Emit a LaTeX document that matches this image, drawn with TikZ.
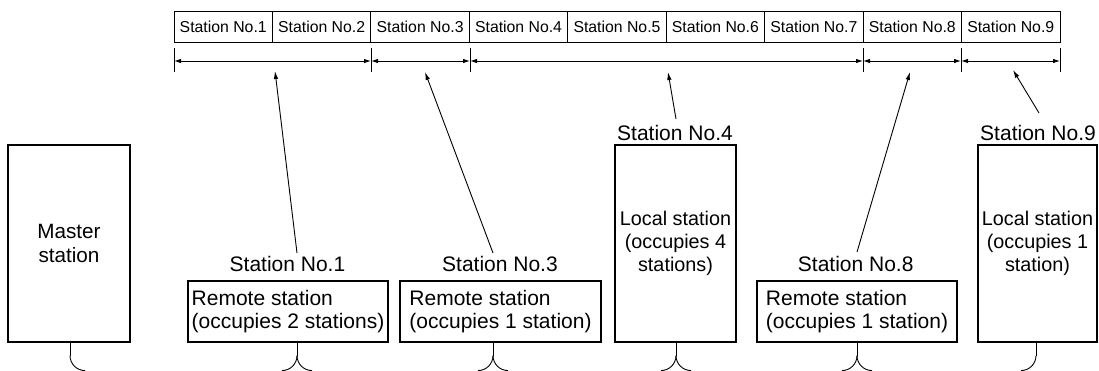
\documentclass[tikz,border=0pt]{standalone}
\usepackage{fontspec}
\setmainfont{Liberation Sans}
\usetikzlibrary{arrows.meta,calc}
\begin{document}
\begin{tikzpicture}[x=1pt,y=-1pt,
  line width=0.9pt,
  cell/.style={draw, minimum width=98.44pt, minimum height=31pt, inner sep=0pt,
    font=\fontsize{15.8}{18}\selectfont},
  lbl/.style={inner sep=0pt, font=\fontsize{21}{23}\selectfont},
  stbox/.style={draw, line width=1.1pt, inner sep=0pt,
    font=\fontsize{21}{23}\selectfont},
  localtxt/.style={font=\fontsize{19.8}{23}\selectfont},
  dimarrow/.style={{Latex[length=7pt,width=4.5pt]}-{Latex[length=7pt,width=4.5pt]}},
  ptr/.style={-{Latex[length=8pt,width=4.5pt]}},
]
\useasboundingbox (0,0) rectangle (1099,370);
\clip (0,0) rectangle (1099,370);

% table of stations
\foreach \i in {1,...,9} {
  \node[cell] (c\i) at ({174+98.44*(\i-0.5)},26.5) {Station No.\i};
}

% dimension ticks
\foreach \n/\x in {a/174, b/371, c/470, d/863, e/961, f/1060} {
  \coordinate (\n t) at (\x,48);
  \coordinate (\n b) at (\x,72);
  \coordinate (\n m) at (\x,61);
  \draw (\n t) -- (\n b);
}
\draw[dimarrow] (am) -- (bm);
\draw[dimarrow] (bm) -- (cm);
\draw[dimarrow] (cm) -- (dm);
\draw[dimarrow] (dm) -- (em);
\draw[dimarrow] (em) -- (fm);

% station boxes
\node[stbox, minimum width=122pt, minimum height=197pt, align=center,
  font=\fontsize{20.7}{24}\selectfont]
  (m) at (69,243.5) {Master\\station};
\node[stbox, minimum width=200pt, minimum height=61pt, align=left]
  (r1) at (288,311.5) {Remote station\\(occupies 2 stations)};
\node[stbox, minimum width=201pt, minimum height=61pt, align=left]
  (r3) at (500.5,311.5) {Remote station\\(occupies 1 station)};
\node[stbox, localtxt, minimum width=121pt, minimum height=197pt, align=center]
  (l4) at (675.5,243.5) {Local station\\(occupies 4\\stations)};
\node[stbox, minimum width=200pt, minimum height=61pt, align=left]
  (r8) at (857,311.5) {Remote station\\(occupies 1 station)};
\node[stbox, localtxt, minimum width=119pt, minimum height=197pt, align=center]
  (l9) at (1037.5,243.5) {Local station\\(occupies 1\\station)};

% station labels
\node[lbl] (s1) at (287.5,264) {Station No.1};
\node[lbl] (s3) at (500,264) {Station No.3};
\node[lbl] (s8) at (855.7,264) {Station No.8};
\node[lbl] (s4) at (675,133) {Station No.4};
\node[lbl] (s9) at (1038,133) {Station No.9};

% pointer arrows
\coordinate (t1) at (297,253);  \coordinate (h1) at (275,71);
\coordinate (t3) at (493,253);  \coordinate (h3) at (425,72);
\coordinate (t4) at (676,119);  \coordinate (h4) at (668,72);
\coordinate (t8) at (857,252);  \coordinate (h8) at (910,72);
\coordinate (t9) at (1039,113); \coordinate (h9) at (1013,70);
\draw[ptr] (t1) -- (h1);
\draw[ptr] (t3) -- (h3);
\draw[ptr] (t4) -- (h4);
\draw[ptr] (t8) -- (h8);
\draw[ptr] (t9) -- (h9);

% bus connections
\coordinate (jm) at (m.south -| 70,0);
\coordinate (j1) at (r1.south -| t1);
\coordinate (j3) at (r3.south -| t3);
\coordinate (j4) at (l4.south -| t4);
\coordinate (j8) at (r8.south -| t8);
\coordinate (j9) at (l9.south -| 1036,0);
\foreach \j in {jm,j1,j3,j4,j8,j9} {
  \draw (\j) -- ($(\j)+(0,13)$) coordinate (k\j);
}
\foreach \j in {j1,j3,j4,j8,j9} {
  \draw (k\j) .. controls ($(k\j)+(0,8.3)$) and ($(k\j)+(-6.7,15)$) .. ($(k\j)+(-15,15)$);
}
\foreach \j in {jm,j1,j3,j4,j8} {
  \draw (k\j) .. controls ($(k\j)+(0,8.3)$) and ($(k\j)+(6.7,15)$) .. ($(k\j)+(15,15)$);
}
\end{tikzpicture}
\end{document}
